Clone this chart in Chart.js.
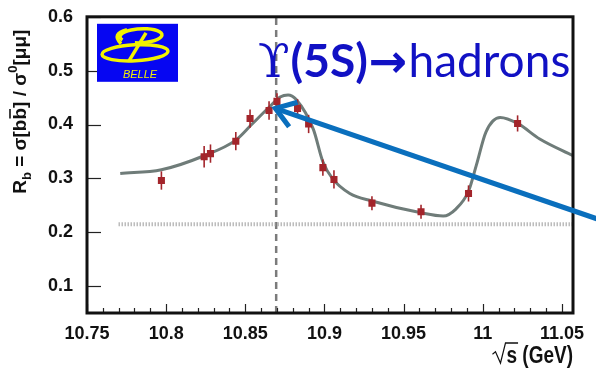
<!DOCTYPE html>
<html>
<head>
<meta charset="utf-8">
<script src="https://cdn.jsdelivr.net/npm/chart.js@4.4.1/dist/chart.umd.min.js"></script>
<style>
html, body { margin: 0; padding: 0; background: #fff; }
#rbChart { display: block; }
</style>
</head>
<body>
<canvas id="rbChart" width="596" height="369"></canvas>
<script>
// R_b scan around the Y(5S) (Belle)
const scanEnergy = [10.797, 10.824, 10.828, 10.844, 10.853, 10.865, 10.870, 10.883, 10.890, 10.899, 10.906, 10.930, 10.961, 10.991, 11.022];
const scanRb     = [0.296, 0.340, 0.346, 0.369, 0.411, 0.426, 0.443, 0.430, 0.401, 0.320, 0.298, 0.254, 0.238, 0.272, 0.402];
const scanErr    = [0.017, 0.020, 0.017, 0.017, 0.017, 0.017, 0.015, 0.017, 0.017, 0.015, 0.017, 0.013, 0.013, 0.015, 0.015];

// fitted curve
const fitEnergy = [10.771, 10.797, 10.824, 10.844, 10.854, 10.865, 10.872, 10.877, 10.882, 10.893, 10.899, 10.905, 10.916, 10.930, 10.961, 10.975, 10.983, 10.991, 10.996, 11.002, 11.011, 11.022, 11.036, 11.057];
const fitRb     = [0.309, 0.316, 0.342, 0.371, 0.400, 0.432, 0.451, 0.455, 0.447, 0.391, 0.331, 0.300, 0.272, 0.258, 0.236, 0.230, 0.243, 0.276, 0.325, 0.386, 0.413, 0.402, 0.373, 0.342];

const peakEnergy = 10.8695;
const baselineRb = 0.215;
const baselineEnergy = [10.77, 11.057];

const xTicks = [10.75, 10.8, 10.85, 10.9, 10.95, 11, 11.05];
const yTicks = [0.1, 0.2, 0.3, 0.4, 0.5, 0.6];
const xRange = [10.75, 11.057];
const yRange = [0.05, 0.6];

const tickFont = { family: '"Liberation Sans", Arial, sans-serif', size: 18, weight: 'bold' };

const errorBars = {
    id: 'errorBars',
    afterDatasetsDraw(chart) {
        const { ctx, scales: { x, y } } = chart;
        ctx.save();
        ctx.strokeStyle = '#a3252b';
        ctx.lineWidth = 1.6;
        scanEnergy.forEach((e, i) => {
            const px = x.getPixelForValue(e);
            ctx.beginPath();
            ctx.moveTo(px, y.getPixelForValue(scanRb[i] - scanErr[i]));
            ctx.lineTo(px, y.getPixelForValue(scanRb[i] + scanErr[i]));
            ctx.stroke();
        });
        ctx.restore();
    }
};

const decor = {
    id: 'decor',
    afterDraw(chart) {
        const { ctx, chartArea: a, scales: { x, y } } = chart;
        ctx.save();

        // inward ticks
        ctx.strokeStyle = '#222';
        ctx.lineWidth = 1.2;
        for (let i = 0; i <= 30; i++) {
            const px = Math.round(x.getPixelForValue(10.75 + i * 0.01)) + 0.5;
            const len = i % 5 === 0 ? 9 : 5;
            ctx.beginPath(); ctx.moveTo(px, a.bottom); ctx.lineTo(px, a.bottom - len); ctx.stroke();
        }
        yTicks.forEach(v => {
            const py = Math.round(y.getPixelForValue(v)) + 0.5;
            ctx.beginPath(); ctx.moveTo(a.left, py); ctx.lineTo(a.left + 14, py); ctx.stroke();
        });

        // frame
        ctx.strokeStyle = '#111';
        ctx.lineWidth = 3;
        ctx.strokeRect(a.left, a.top, a.width, a.height);

        // Belle logo
        const lx = a.left + 10, ly = a.top + 7;
        ctx.fillStyle = '#0606f2';
        ctx.fillRect(lx, ly, 81, 58);
        ctx.strokeStyle = '#f2f200';
        ctx.lineWidth = 3.5;
        ctx.beginPath(); ctx.ellipse(lx + 44, ly + 12, 21, 7, -0.05, Math.PI * 0.85, Math.PI * 2.6); ctx.stroke();
        ctx.beginPath(); ctx.ellipse(lx + 38, ly + 29, 33, 8, -0.05, 0, Math.PI * 2); ctx.stroke();
        ctx.beginPath(); ctx.moveTo(lx + 49, ly + 9); ctx.lineTo(lx + 32, ly + 37); ctx.stroke();
        ctx.beginPath(); ctx.moveTo(lx + 24, ly + 20); ctx.quadraticCurveTo(lx + 14, ly + 10, lx + 30, ly + 6); ctx.stroke();
        ctx.fillStyle = '#f2f200';
        ctx.font = 'italic 11px "Liberation Sans", Arial, sans-serif';
        ctx.textAlign = 'center';
        ctx.textBaseline = 'alphabetic';
        ctx.fillText('BELLE', lx + 43, ly + 54);

        // headline  Y(5S) -> hadrons, sized to run from x=258 to the frame
        ctx.fillStyle = '#1111c4';
        ctx.textAlign = 'left';
        const parts = [
            ['ϒ', '"DejaVu Serif", serif', ''],
            ['(5S)', 'Lato, "Open Sans", sans-serif', 'bold '],
            ['→', '"DejaVu Sans", sans-serif', 'bold '],
            ['hadrons', 'Lato, "Open Sans", sans-serif', '']
        ];
        const widthAt = size => parts.reduce((w, [t, f, wt]) => { ctx.font = wt + size + 'px ' + f; return w + ctx.measureText(t).width + 1; }, 0);
        const startX = a.left + 171;
        const size = 40 * (a.right - 1 - startX) / widthAt(40);
        let tx = startX;
        const by = a.top + 60;
        parts.forEach(([t, f, wt]) => { ctx.font = wt + size + 'px ' + f; ctx.fillText(t, tx, by); tx += ctx.measureText(t).width + 1; });

        // blue pointer arrow
        const tipX = x.getPixelForValue(10.869), tipY = y.getPixelForValue(0.430);
        const tailX = x.getPixelForValue(11.075), tailY = y.getPixelForValue(0.222);
        const ang = Math.atan2(tailY - tipY, tailX - tipX);
        ctx.strokeStyle = '#0a6fbd';
        ctx.lineWidth = 5;
        ctx.lineCap = 'butt';
        ctx.beginPath(); ctx.moveTo(tipX + 3 * Math.cos(ang), tipY + 3 * Math.sin(ang)); ctx.lineTo(tailX, tailY); ctx.stroke();
        ctx.lineJoin = 'miter';
        ctx.beginPath();
        ctx.moveTo(tipX + 23 * Math.cos(ang - 0.6), tipY + 23 * Math.sin(ang - 0.6));
        ctx.lineTo(tipX, tipY);
        ctx.lineTo(tipX + 23 * Math.cos(ang + 0.6), tipY + 23 * Math.sin(ang + 0.6));
        ctx.stroke();

        // y axis title: R_b = sigma[b bbar] / sigma^0[mu mu]
        ctx.fillStyle = '#111';
        ctx.strokeStyle = '#111';
        ctx.translate(26, a.top + 177);
        ctx.rotate(-Math.PI / 2);
        const big = 'bold 19px "Liberation Sans", Arial, sans-serif';
        const small = 'bold 13px "Liberation Sans", Arial, sans-serif';
        let cx = 0;
        const put = (t, f, dy) => { ctx.font = f; ctx.fillText(t, cx, dy); const w = ctx.measureText(t).width; cx += w; return w; };
        put('R', big, 0);
        put('b', small, 5);
        put(' = σ[b', big, 0);
        const ox = cx;
        const bw = put('b', big, 0);
        ctx.lineWidth = 1.6;
        ctx.beginPath(); ctx.moveTo(ox + 1, -16); ctx.lineTo(ox + bw - 1, -16); ctx.stroke();
        put('] / σ', big, 0);
        put('0', small, -9);
        put('[μμ]', big, 0);
        ctx.setTransform(1, 0, 0, 1, 0, 0);

        // x axis title: sqrt(s) (GeV), slightly stretched vertically like the original
        ctx.font = 'bold 19px "Liberation Sans", Arial, sans-serif';
        ctx.textAlign = 'left';
        const xt = ' (GeV)';
        const wRest = ctx.measureText(xt).width;
        const wS = ctx.measureText('s').width;
        const sx = a.right - wRest - wS;
        const sy = 363;
        ctx.translate(0, sy);
        ctx.scale(1, 1.25);
        ctx.fillText('s', sx, 0);
        ctx.fillText(xt, sx + wS, 0);
        ctx.lineWidth = 1.2;
        ctx.beginPath();
        ctx.moveTo(sx - 14, -7);
        ctx.lineTo(sx - 11, -9);
        ctx.lineTo(sx - 6, 0);
        ctx.lineTo(sx - 1, -16);
        ctx.lineTo(sx + wS + 1, -16);
        ctx.stroke();

        ctx.restore();
    }
};

new Chart(document.getElementById('rbChart'), {
    type: 'line',
    data: {
        datasets: [
            {
                label: 'data',
                data: scanEnergy.map((e, i) => ({ x: e, y: scanRb[i] })),
                showLine: false,
                pointStyle: 'rect',
                pointRadius: 5,
                backgroundColor: '#a3252b',
                borderColor: '#a3252b',
                borderWidth: 0,
                order: 0
            },
            {
                label: 'fit',
                data: fitEnergy.map((e, i) => ({ x: e, y: fitRb[i] })),
                borderColor: '#6f7c79',
                borderWidth: 3,
                pointRadius: 0,
                cubicInterpolationMode: 'monotone',
                fill: false,
                order: 1
            },
            {
                label: 'continuum',
                data: baselineEnergy.map(e => ({ x: e, y: baselineRb })),
                borderColor: '#9a9a9a',
                borderWidth: 4,
                borderDash: [1, 2],
                pointRadius: 0,
                order: 2
            },
            {
                label: 'peak',
                data: yRange.map(v => ({ x: peakEnergy, y: v })),
                borderColor: '#7b7b7b',
                borderWidth: 2.5,
                borderDash: [7, 5],
                pointRadius: 0,
                order: 3
            }
        ]
    },
    options: {
        responsive: false,
        animation: false,
        layout: { padding: { left: 0, right: 23, top: 13, bottom: 0 } },
        plugins: { legend: { display: false }, tooltip: { enabled: false } },
        scales: {
            x: {
                type: 'linear',
                min: xRange[0],
                max: xRange[1],
                grid: { display: false },
                border: { display: false },
                afterFit: s => { s.height = 56; },
                afterBuildTicks: s => { s.ticks = xTicks.map(v => ({ value: v })); },
                ticks: {
                    color: '#111',
                    font: tickFont,
                    padding: 2,
                    maxRotation: 0,
                    autoSkip: false,
                    callback: v => String(Number(v.toFixed(2)))
                }
            },
            y: {
                min: yRange[0],
                max: yRange[1],
                grid: { display: false },
                border: { display: false },
                afterFit: s => { s.width = 87; },
                afterBuildTicks: s => { s.ticks = yTicks.map(v => ({ value: v })); },
                ticks: {
                    color: '#111',
                    font: tickFont,
                    padding: 6,
                    callback: v => v.toFixed(1)
                }
            }
        }
    },
    plugins: [errorBars, decor]
});
</script>
</body>
</html>
